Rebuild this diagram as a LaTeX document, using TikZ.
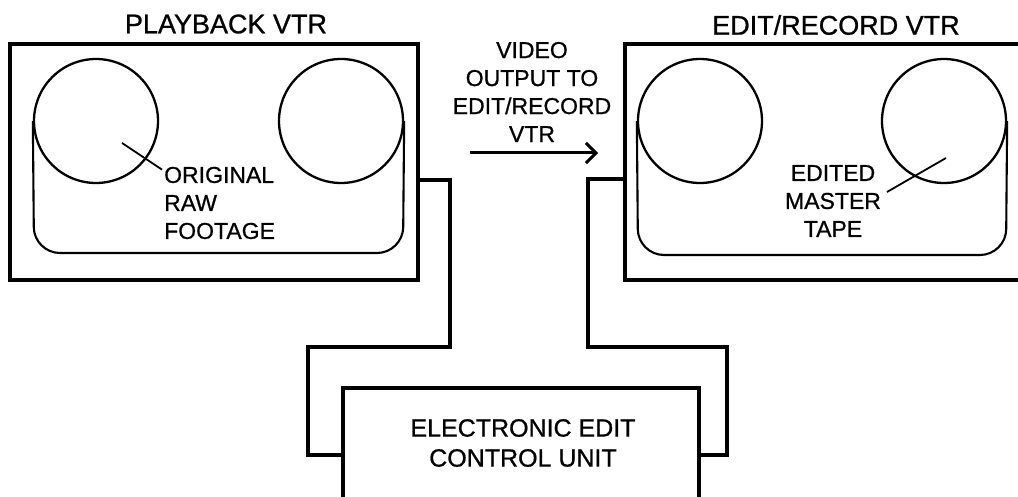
\documentclass[tikz,border=0pt]{standalone}
\usepackage{fontspec}
\setmainfont{Liberation Sans}[FakeBold=0.8]
\usetikzlibrary{arrows.meta}

\tikzset{
  vtrbox/.style={draw, line width=3.4pt, minimum height=236pt, inner sep=0pt},
  reel/.style={draw, circle, line width=2.3pt, minimum size=124pt, inner sep=0pt},
  tapeline/.style={line width=2.1pt, rounded corners=26pt},
  cable/.style={line width=3.2pt},
  leader/.style={line width=1.8pt},
  title/.style={font=\fontsize{27}{30}\selectfont, inner sep=0pt},
  lbl/.style={font=\fontsize{23}{28}\selectfont, inner sep=0pt},
}

\begin{document}
\begin{tikzpicture}[x=1pt, y=-1pt]
\useasboundingbox (0,0) rectangle (1018,497);

% the two recorders
\node[vtrbox, minimum width=408pt] (playback) at (214,162) {};
\node[vtrbox, minimum width=420pt] (record) at (835,162) {};
\node[title] (pbtitle) at (226,24) {PLAYBACK VTR};
\node[title] (rectitle) at (836,25) {EDIT/RECORD VTR};

% reels and tape
\node[reel] (pbfeed) at (96,121) {};
\node[reel] (pbtake) at (341,121) {};
\draw[tapeline] (pbfeed.west) -- (34,253) -- (403,253) -- (pbtake.east);
\node[reel] (recfeed) at (700,121) {};
\node[reel] (rectake) at (944,121) {};
\draw[tapeline] (recfeed.west) -- (638,255) -- (1006,255) -- (rectake.east);

% labels on the tapes
\node[lbl, align=left, anchor=west] (rawlbl) at (164,203) {ORIGINAL\\RAW\\FOOTAGE};
\coordinate (rawpt) at (122,143);
\draw[leader] (rawpt) -- ([xshift=-2pt,yshift=-3pt]rawlbl.north west);
\node[lbl, align=center] (masterlbl) at (833,201) {EDITED\\MASTER\\TAPE};
\coordinate (masterpt) at (946,158);
\draw[leader] (masterpt) -- (887,192);

% video feed
\node[lbl, align=center] (vidlbl) at (532,92) {VIDEO\\OUTPUT TO\\EDIT/RECORD\\VTR};
\coordinate (vidstart) at (470,153);
\coordinate (vidend) at (598,153);
\draw[-{Straight Barb[length=10pt,width=20pt]}, line width=3pt] (vidstart) -- (vidend);

% edit controller and its cables
\node[draw, line width=3.2pt, minimum width=356pt, minimum height=140pt, inner sep=0pt] (control) at (521,458) {};
\node[title, align=center, font=\fontsize{25}{30}\selectfont] (ctrllbl) at (523,443) {ELECTRONIC EDIT\\CONTROL UNIT};
\draw[cable] (playback.east |- 0,180) -- (450,180) -- (450,347) -- (308,347) -- (308,455) -- (control.west |- 0,455);
\draw[cable] (record.west |- 0,179) -- (588,179) -- (588,347) -- (727,347) -- (727,455) -- (control.east |- 0,455);

\end{tikzpicture}
\end{document}
